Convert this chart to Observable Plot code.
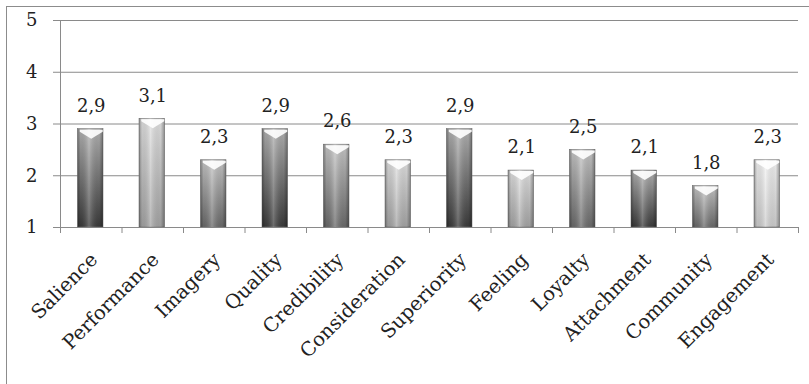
<!DOCTYPE html>
<html>
<head>
<meta charset="utf-8">
<script src="https://cdn.jsdelivr.net/npm/d3@7"></script>
<script src="https://cdn.jsdelivr.net/npm/@observablehq/plot@0.6"></script>
<style>
  html, body { margin: 0; padding: 0; background: #fff; }
  #wrap { position: relative; width: 809px; height: 384px; overflow: hidden; }
  #frame { position: absolute; left: 6px; top: 6px; width: 820px; height: 400px;
           border-left: 1px solid #8c8c8c; border-top: 1px solid #8c8c8c; }
  #chart { position: absolute; left: 0; top: 0; }
</style>
</head>
<body>
<svg width="0" height="0" style="position:absolute">
  <defs>
    <linearGradient id="gDark" x1="0" y1="0" x2="0" y2="1">
      <stop offset="0" stop-color="#b4b4b4"/>
      <stop offset="1" stop-color="#3a3a3a"/>
    </linearGradient>
    <linearGradient id="gMed" x1="0" y1="0" x2="0" y2="1">
      <stop offset="0" stop-color="#c8c8c8"/>
      <stop offset="1" stop-color="#6a6a6a"/>
    </linearGradient>
    <linearGradient id="gLight" x1="0" y1="0" x2="0" y2="1">
      <stop offset="0" stop-color="#e2e2e2"/>
      <stop offset="1" stop-color="#a4a4a4"/>
    </linearGradient>
    <linearGradient id="gPale" x1="0" y1="0" x2="0" y2="1">
      <stop offset="0" stop-color="#f4f4f4"/>
      <stop offset="1" stop-color="#cdcdcd"/>
    </linearGradient>
    <linearGradient id="gSheen" x1="0" y1="0" x2="1" y2="0">
      <stop offset="0" stop-color="#000" stop-opacity="0.35"/>
      <stop offset="0.12" stop-color="#000" stop-opacity="0.08"/>
      <stop offset="0.45" stop-color="#fff" stop-opacity="0.25"/>
      <stop offset="0.85" stop-color="#000" stop-opacity="0.05"/>
      <stop offset="1" stop-color="#000" stop-opacity="0.35"/>
    </linearGradient>
  </defs>
</svg>
<div id="wrap"><div id="frame"></div><div id="chart"></div></div>
<script>
const categories = ["Salience", "Performance", "Imagery", "Quality", "Credibility", "Consideration",
                    "Superiority", "Feeling", "Loyalty", "Attachment", "Community", "Engagement"];
const values = [2.9, 3.1, 2.3, 2.9, 2.6, 2.3, 2.9, 2.1, 2.5, 2.1, 1.8, 2.3];
const yTicks = [1, 2, 3, 4, 5];

// styling (gradient per bar, as in the reference)
const shades = ["gDark", "gLight", "gMed", "gDark", "gMed", "gLight",
                "gDark", "gLight", "gMed", "gDark", "gMed", "gPale"];

const data = categories.map((c, i) => ({cat: c, i, v: values[i], shade: `url(#${shades[i]})`}));
const fmt = v => v.toFixed(1).replace(".", ",");
const font = "DejaVu Serif";

// shallow chevron highlight at the top of each bar
const chevron = {
  draw(ctx) {
    ctx.moveTo(-11.5, -4);
    ctx.lineTo(11.5, -4);
    ctx.lineTo(11.5, -2);
    ctx.lineTo(0, 5);
    ctx.lineTo(-11.5, -2);
    ctx.closePath();
  }
};

const chart = Plot.plot({
  width: 809,
  height: 384,
  marginLeft: 60,
  marginRight: 11,
  marginTop: 20,
  marginBottom: 157,
  style: {fontFamily: font, background: "transparent", color: "#222"},
  x: {domain: [0, categories.length], axis: null},
  y: {domain: [1, 5], axis: null},
  color: {type: "identity"},
  marks: [
    Plot.gridY(yTicks, {stroke: "#8a8a8a", strokeOpacity: 1, strokeWidth: 1}),
    Plot.axisY({ticks: yTicks, tickSize: 7, tickPadding: 16, fontSize: 18, label: null,
                stroke: "#8a8a8a", fill: "#222", tickFormat: d => d}),
    Plot.ruleX([0], {y1: 1, y2: 5, stroke: "#8a8a8a"}),
    Plot.ruleY([1], {stroke: "#8a8a8a"}),
    Plot.axisX({ticks: d3.range(categories.length + 1), tickSize: 6, tickFormat: () => "",
                label: null, stroke: "#8a8a8a"}),
    Plot.rectY(data, {x1: "i", x2: d => d.i + 1, y1: 1, y2: "v", fill: "shade",
                      insetLeft: 17.5, insetRight: 18.5, stroke: "#777", strokeWidth: 0.6}),
    Plot.rectY(data, {x1: "i", x2: d => d.i + 1, y1: 1, y2: "v", fill: "url(#gSheen)",
                      insetLeft: 17.5, insetRight: 18.5}),
    Plot.dot(data, {x: d => d.i + 0.5, y: "v", symbol: chevron, r: 5, dy: 4.5,
                    fill: "white", fillOpacity: 0.9, stroke: "none"}),
    Plot.text(data, {x: d => d.i + 0.5, y: "v", text: d => fmt(d.v), dy: -23,
                     fontSize: 18, fill: "#222"}),
    Plot.text(data, {x: d => d.i + 0.5, y: 1, text: "cat", rotate: -45, textAnchor: "end",
                     dx: 3, dy: 29, fontSize: 19.5, fill: "#222"})
  ]
});
document.getElementById("chart").append(chart);
</script>
</body>
</html>
